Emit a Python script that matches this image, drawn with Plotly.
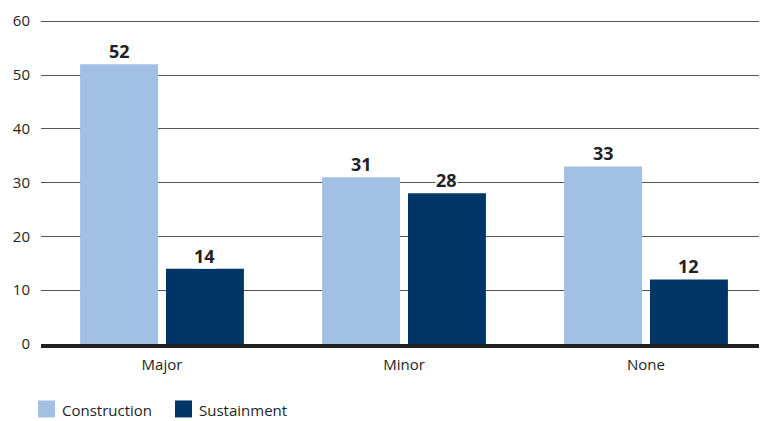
import plotly.graph_objects as go

categories = ["Major", "Minor", "None"]
construction = [52, 31, 33]
sustainment = [14, 28, 12]
series_names = ["Construction", "Sustainment"]
colors = ["#a2bfe4", "#003567"]
y_ticks = [0, 10, 20, 30, 40, 50, 60]

FONT = "Open Sans, Noto Sans, sans-serif"
TXT = "#231f20"

# page body adds an 8px offset; figure sized to the remaining view
FW, FH = 759, 413
L, R = 33, 0
YMAX = 60.6
PLOT_BOTTOM = 336
PLOT_H = 323 * YMAX / 60
T = PLOT_BOTTOM - PLOT_H
B = FH - PLOT_BOTTOM
W = FW - L - R

fig = go.Figure()
for name, vals, col in zip(series_names, [construction, sustainment], colors):
    fig.add_trace(go.Bar(x=categories, y=vals, name=name, marker_color=col,
                         marker_line_width=0, showlegend=False))

# value labels with white background
slot = W / 3 * (1 - 0.29) / 2
for vals, sign in [(construction, -1), (sustainment, 1)]:
    for c, v in zip(categories, vals):
        fig.add_annotation(x=c, y=v, text=f"<b>{v}</b>", showarrow=False,
                           xshift=sign * slot / 2, yanchor="bottom", yshift=0,
                           bgcolor="white", borderpad=0,
                           font=dict(family=FONT, size=18, color=TXT))

# manual legend (square swatch + label), positions in figure pixels
def xp(px):
    return (px - L) / W

def yp(py):
    return (PLOT_BOTTOM - py) / PLOT_H

LEG_X = [30, 167]
LEG_CY = 401
SW = 17
for name, col, lx in zip(series_names, colors, LEG_X):
    fig.add_shape(type="rect", xref="paper", yref="paper",
                  x0=xp(lx), x1=xp(lx + SW), y0=yp(LEG_CY + SW / 2), y1=yp(LEG_CY - SW / 2),
                  fillcolor=col, line_width=0)
    fig.add_annotation(xref="paper", yref="paper", x=xp(lx + SW + 6), y=yp(LEG_CY + 1),
                       text=name, showarrow=False, xanchor="left", yanchor="middle",
                       borderpad=0,
                       font=dict(family=FONT, size=15, color=TXT))

fig.update_layout(
    width=FW, height=FH,
    margin=dict(l=L, r=R, t=T, b=B, autoexpand=False),
    paper_bgcolor="white", plot_bgcolor="white",
    barmode="group", bargap=0.29, bargroupgap=0.093,
    font=dict(family=FONT, size=15, color=TXT),
    showlegend=False,
)
fig.update_yaxes(range=[0, YMAX], tickvals=y_ticks, showgrid=True, gridcolor="#555555",
                 gridwidth=1, zeroline=False, showline=False, automargin=False,
                 ticks="", ticklabelstandoff=10,
                 tickfont=dict(family=FONT, size=15, color=TXT))
fig.update_xaxes(showline=True, linecolor=TXT, linewidth=4, ticks="", automargin=False,
                 ticklabelstandoff=4,
                 tickfont=dict(family=FONT, size=15, color=TXT))

fig.write_html("out.html")
